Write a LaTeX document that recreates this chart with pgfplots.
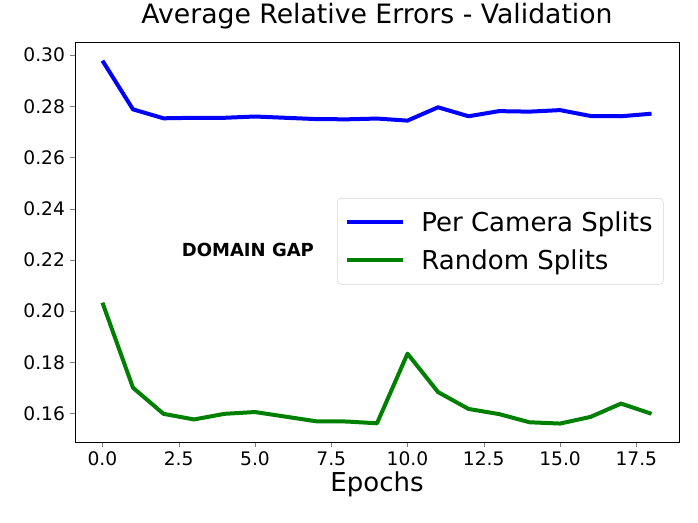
\documentclass[border=0pt]{standalone}
\usepackage{fontspec}
\setmainfont{DejaVu Sans}
\usepackage{pgfplots}
\pgfplotsset{compat=1.18}
\definecolor{mplgreen}{HTML}{008000}

\begin{document}
\begin{tikzpicture}
\path[use as bounding box] (-56.25pt,-60.75pt) rectangle (467.25pt,331.5pt);
\begin{axis}[
  scale only axis,width=453pt,height=300pt,
  xmin=-0.9,xmax=18.9,ymin=0.1489,ymax=0.3051,
  xtick={0,2.5,...,17.5},
  ytick={0.16,0.18,...,0.30},
  /pgf/number format/assume math mode=true,
  /pgf/number format/fixed,/pgf/number format/fixed zerofill,
  xticklabel style={/pgf/number format/precision=1},
  yticklabel style={/pgf/number format/precision=2},
  tick label style={font=\fontsize{14}{16}\selectfont},
  tick align=outside,tick pos=left,
  major tick length=4pt,
  title={Average Relative Errors - Validation},
  title style={font=\fontsize{20}{24}\selectfont},
  xlabel={Epochs},
  xlabel style={font=\fontsize{19.5}{23}\selectfont,yshift=3pt},
  legend style={at={(rel axis cs:0.434,0.61)},anchor=north west,
    font=\fontsize{19.5}{23}\selectfont,draw=black!15,rounded corners=3pt,
    inner xsep=6pt,inner ysep=8pt,row sep=8pt,
    /tikz/every odd column/.append style={column sep=10pt}},
  legend cell align=left,
  legend image code/.code={\draw[#1] (0pt,0pt) -- (42pt,0pt);},
]
\addplot[blue,line width=3pt,line join=round] coordinates {
(0,0.2978) (1,0.2788) (2,0.2753) (3,0.2755) (4,0.2755) (5,0.2760)
(6,0.2755) (7,0.2750) (8,0.2749) (9,0.2752) (10,0.2744) (11,0.2796)
(12,0.2761) (13,0.2781) (14,0.2779) (15,0.2785) (16,0.2762) (17,0.2761) (18,0.2771)};
\addlegendentry{Per Camera Splits}
\addplot[mplgreen,line width=3pt,line join=round] coordinates {
(0,0.2033) (1,0.1701) (2,0.1599) (3,0.1577) (4,0.1599) (5,0.1606)
(6,0.1588) (7,0.1570) (8,0.1569) (9,0.1562) (10,0.1834) (11,0.1684)
(12,0.1618) (13,0.1598) (14,0.1566) (15,0.1561) (16,0.1587) (17,0.1639) (18,0.1599)};
\addlegendentry{Random Splits}
\node[anchor=west,font=\fontsize{13.5}{16}\selectfont\bfseries] at (axis cs:2.45,0.2237) {DOMAIN GAP};
\end{axis}
\end{tikzpicture}
\end{document}
